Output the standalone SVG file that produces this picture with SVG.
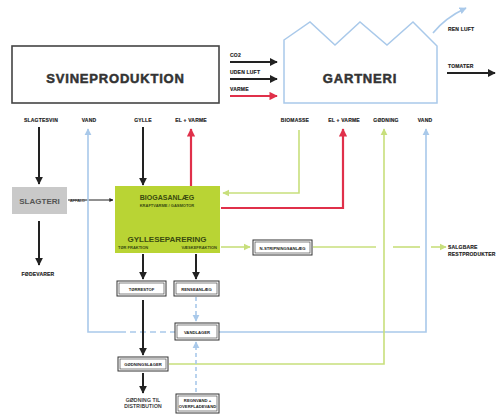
<svg xmlns="http://www.w3.org/2000/svg" width="499" height="418" viewBox="0 0 499 418">
<defs>
<style>
text{font-family:"Liberation Sans",Arial,sans-serif;font-weight:bold;fill:#222}
.big{font-size:13px;fill:#333;stroke:#333;stroke-width:0.5px;letter-spacing:0.8px}
.sm{font-size:5px;letter-spacing:0.2px;stroke:#222;stroke-width:0.15px}
.box{fill:#fff;stroke:#333;stroke-width:1}
.bk{stroke:#222;stroke-width:2;fill:none}
.rd{stroke:#e0304a;stroke-width:2.2;fill:none}
.bl{stroke:#a9c9ea;stroke-width:1.6;fill:none}
.gr{stroke:#c8df7c;stroke-width:1.6;fill:none}
</style>
<marker id="ak" viewBox="0 0 10 10" refX="9" refY="5" markerWidth="4" markerHeight="4" orient="auto"><path d="M0,0L10,5L0,10z" fill="#222"/></marker>
<marker id="ar" viewBox="0 0 10 10" refX="9" refY="5" markerWidth="3.8" markerHeight="3.8" orient="auto"><path d="M0,0L10,5L0,10z" fill="#e0304a"/></marker>
<marker id="ab" viewBox="0 0 10 10" refX="9" refY="5" markerWidth="4.5" markerHeight="4.5" orient="auto"><path d="M0,0L10,5L0,10z" fill="#a9c9ea"/></marker>
<marker id="ag" viewBox="0 0 10 10" refX="9" refY="5" markerWidth="4.5" markerHeight="4.5" orient="auto"><path d="M0,0L10,5L0,10z" fill="#c8df7c"/></marker>
</defs>
<rect width="499" height="418" fill="#fff"/>

<g id="connectors">
<line class="bk" x1="230" y1="62" x2="277" y2="62" marker-end="url(#ak)"/>
<line class="bk" x1="230" y1="79" x2="277" y2="79" marker-end="url(#ak)"/>
<line class="rd" x1="230" y1="96" x2="277" y2="96" marker-end="url(#ar)"/>
<path class="bl" d="M433,33 Q445,18 466,8" marker-end="url(#ab)"/>
<line class="bk" x1="447" y1="73" x2="495" y2="73" marker-end="url(#ak)"/>
<line class="bk" x1="39" y1="127" x2="39" y2="184" marker-end="url(#ak)"/>
<line class="bk" x1="39" y1="221" x2="39" y2="265" marker-end="url(#ak)"/>
<line x1="68" y1="200" x2="113" y2="200" stroke="#222" stroke-width="1" marker-end="url(#ak)"/>
<line class="bk" x1="143" y1="127" x2="143" y2="185" marker-end="url(#ak)"/>
<line class="rd" x1="191" y1="186" x2="191" y2="129" marker-end="url(#ar)"/>
<polyline class="bl" points="120,332 88,332 88,129" marker-end="url(#ab)"/>
<line class="bl" x1="120" y1="332" x2="175" y2="332" stroke-dasharray="6,4"/>
<polyline class="bl" points="219,332 426,332 426,129" marker-end="url(#ab)"/>
<polyline class="gr" points="299,130 299,193 223,193" marker-end="url(#ag)"/>
<polyline class="rd" points="221,208 343,208 343,129" marker-end="url(#ar)"/>
<polyline class="gr" points="169,364 384,364 384,129" marker-end="url(#ag)"/>
<line class="gr" x1="221" y1="247" x2="250" y2="247" marker-end="url(#ag)"/>
<line class="gr" x1="313" y1="247" x2="376" y2="247"/>
<line class="gr" x1="393" y1="247" x2="420" y2="247"/>
<line class="gr" x1="431" y1="247" x2="446" y2="247" marker-end="url(#ag)"/>
<line class="bk" x1="143" y1="254" x2="143" y2="279" marker-end="url(#ak)"/>
<line class="bk" x1="196" y1="254" x2="196" y2="279" marker-end="url(#ak)"/>
<line class="bk" x1="143" y1="300" x2="143" y2="355" marker-end="url(#ak)"/>
<line class="bk" x1="143" y1="373" x2="143" y2="393" marker-end="url(#ak)"/>
<line class="bl" x1="196" y1="297" x2="196" y2="321" stroke-dasharray="4,3" marker-end="url(#ab)"/>
<line class="bl" x1="196" y1="392" x2="196" y2="342" stroke-dasharray="4,3" marker-end="url(#ab)"/>
</g>

<g id="svineproduktion">
<rect x="12" y="46" width="207" height="57" fill="#fff" stroke="#444" stroke-width="1.6"/>
<text class="big" x="115.5" y="83" text-anchor="middle">SVINEPRODUKTION</text>
</g>

<g id="gartneri">
<path d="M284,40 L310,22 L335,45 L360,22 L387,45 L413,22 L437,46 L437,103 L284,103 Z" fill="#fff" stroke="#a9c9ea" stroke-width="1.5"/>
<text class="big" x="360" y="83" text-anchor="middle">GARTNERI</text>
</g>

<g id="labels">
<text class="sm" x="230" y="57">CO2</text>
<text class="sm" x="230" y="74">UDEN LUFT</text>
<text class="sm" x="230" y="91">VARME</text>
<text class="sm" x="448" y="31">REN LUFT</text>
<text class="sm" x="448" y="68">TOMATER</text>
<text class="sm" x="41" y="122" text-anchor="middle">SLAGTESVIN</text>
<text class="sm" x="89" y="122" text-anchor="middle">VAND</text>
<text class="sm" x="143" y="122" text-anchor="middle">GYLLE</text>
<text class="sm" x="191" y="122" text-anchor="middle">EL + VARME</text>
<text class="sm" x="295" y="122" text-anchor="middle">BIOMASSE</text>
<text class="sm" x="344" y="122" text-anchor="middle">EL + VARME</text>
<text class="sm" x="386" y="122" text-anchor="middle">GØDNING</text>
<text class="sm" x="425" y="122" text-anchor="middle">VAND</text>
<text class="sm" x="38" y="276" text-anchor="middle">FØDEVARER</text>
<text x="70" y="201.5" style="font-size:4px;font-weight:normal">AFFALD</text>
<text class="sm" x="448" y="249">SALGBARE</text>
<text class="sm" x="448" y="256">RESTPRODUKTER</text>
<text class="sm" x="143" y="402" text-anchor="middle" style="font-weight:normal">GØDNING TIL</text>
<text class="sm" x="143" y="408" text-anchor="middle" style="font-weight:normal">DISTRIBUTION</text>
</g>

<g id="slagteri">
<rect x="12" y="187" width="55" height="27" fill="#c9c9c9"/>
<text x="39.5" y="204" text-anchor="middle" style="font-size:8px;fill:#555">SLAGTERI</text>
</g>

<g id="biogas">
<rect x="115" y="186" width="105" height="67" fill="#b9d434"/>
<text x="167" y="200" text-anchor="middle" style="font-size:7px;fill:#3a4a10">BIOGASANLÆG</text>
<text x="167" y="207" text-anchor="middle" style="font-size:4px;fill:#3a4a10">KRAFTVARME / GASMOTOR</text>
<text x="167" y="242" text-anchor="middle" style="font-size:8px;fill:#3a4a10">GYLLESEPARERING</text>
<text x="118" y="249" style="font-size:4px;fill:#3a4a10">TØR FRAKTION</text>
<text x="217" y="249" text-anchor="end" style="font-size:4px;fill:#3a4a10">VÆSKEFRAKTION</text>
</g>

<g id="n-stripning">
<rect class="box" x="253" y="240" width="59" height="15"/>
<rect x="255" y="242" width="55" height="11" fill="none" stroke="#333" stroke-width="0.6"/>
<text x="282.5" y="249.5" text-anchor="middle" style="font-size:4.2px">N-STRIPNINGSANLÆG</text>
</g>

<g id="toerstof">
<rect class="box" x="117" y="281" width="49" height="15"/>
<rect x="119" y="283" width="45" height="11" fill="none" stroke="#333" stroke-width="0.6"/>
<text x="141.5" y="290.5" text-anchor="middle" style="font-size:4.2px">TØRRESTOF</text>
</g>

<g id="rensning">
<rect class="box" x="174" y="281" width="45" height="15"/>
<rect x="176" y="283" width="41" height="11" fill="none" stroke="#333" stroke-width="0.6"/>
<text x="196.5" y="290.5" text-anchor="middle" style="font-size:4.2px">RENSEANLÆG</text>
</g>

<g id="vandlager">
<rect class="box" x="175" y="323" width="44" height="17"/>
<rect x="177" y="325" width="40" height="13" fill="none" stroke="#333" stroke-width="0.6"/>
<text x="197" y="333.5" text-anchor="middle" style="font-size:4.2px">VANDLAGER</text>
</g>

<g id="goedningslager">
<rect class="box" x="118" y="357" width="50" height="14"/>
<rect x="120" y="359" width="46" height="10" fill="none" stroke="#333" stroke-width="0.6"/>
<text x="143" y="366" text-anchor="middle" style="font-size:4.2px">GØDNINGSLAGER</text>
</g>

<g id="regnvand">
<rect class="box" x="176" y="394" width="43" height="19"/>
<rect x="178" y="396" width="39" height="15" fill="none" stroke="#333" stroke-width="0.6"/>
<text x="197.5" y="402" text-anchor="middle" style="font-size:4.2px">REGNVAND +</text>
<text x="197.5" y="408" text-anchor="middle" style="font-size:4.2px">OVERFLADEVAND</text>
</g>
</svg>
